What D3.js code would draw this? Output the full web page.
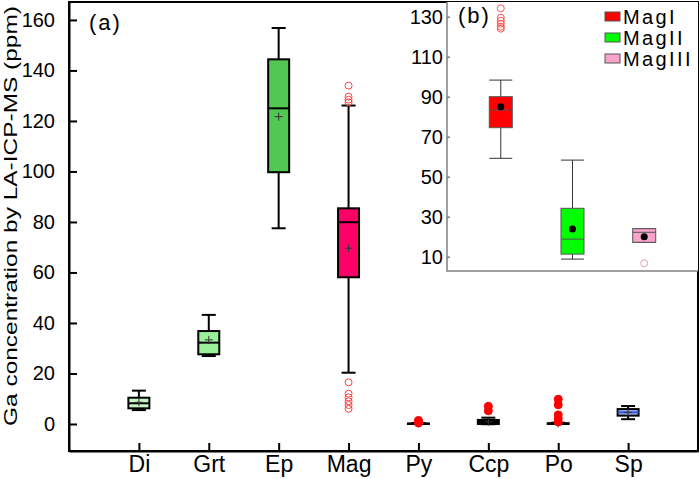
<!DOCTYPE html>
<html>
<head>
  <meta charset="utf-8">
  <style>
    body { margin: 0; background: #fff; }
    svg text { font-family: "Liberation Sans", Arial, sans-serif; fill: #000; }
    .frame { fill: none; stroke: #000; stroke-width: 2px; }
    .main-axis path, .main-axis line { stroke: #000; stroke-width: 2px; }
    .inset-axis path, .inset-axis line { stroke: #808080; stroke-width: 1.5px; }
  </style>
</head>
<body>
<script src="https://d3js.org/d3.v7.min.js"></script>
<script>
  // main panel (a) : Ga in minerals
  var minerals   = ["Di", "Grt", "Ep", "Mag", "Py", "Ccp", "Po", "Sp"];
  var whiskerLow = [5.5, 26.9, 77.5, 20.3, 0, -0.1, 0, 1.9];
  var q1         = [6.2, 27.6, 99.7, 58.1, 0, 0, 0, 3.3];
  var median     = [8.2, 32.2, 125.0, 79.9, 0.05, 0.8, 0.1, 4.6];
  var q3         = [10.4, 36.8, 144.4, 85.4, 0.2, 1.6, 0.3, 5.9];
  var whiskerHigh= [13.2, 43.2, 156.8, 126.1, 0.4, 2.5, 0.5, 7.1];
  var means      = [8.6, 33.3, 121.7, 69.6, 0.2, 0.9, 0.3, 4.6];
  var outliers   = [[], [], [], [134, 129.6, 128.4, 127.4, 16.5, 12, 10.5, 9, 7.5, 6],
                    [1.4, 0.9, 0.4], [7.0, 5.2], [9.8, 7.6, 3.6, 2.2, 0.8], []];
  var boxFill    = ["#c6f5c6", "#98f098", "#52c852", "#ff0066", "#000000", "#000000", "#000000", "#a3b3f2"];
  var medColor   = ["#000", "#000", "#000", "#000", "#000", "#000", "#000", "#3555d5"];
  var yTicks     = [0, 20, 40, 60, 80, 100, 120, 140, 160];

  // inset panel (b) : Mag generations
  var magTypes    = ["MagI", "MagII", "MagIII"];
  var magLow      = [59.2, 8.8, 17.2];
  var magQ1       = [74.5, 11.3, 17.2];
  var magMedian   = [83.3, 18.8, 22.2];
  var magQ3       = [90.0, 34.2, 24.0];
  var magHigh     = [98.3, 58.3, 24.0];
  var magMean     = [85.0, 23.8, 20.0];
  var magOutliers = [[134.2, 129.5, 128, 126.5, 125, 124], [], [6.7]];
  var magFill     = ["#ff0000", "#00ff00", "#f7a3cc"];
  var magOutColor = ["#ff5050", "#000", "#f090c0"];
  var insetTicks  = [10, 30, 50, 70, 90, 110, 130];

  var W = 700, H = 479;
  var svg = d3.select("body").append("svg").attr("width", W).attr("height", H);

  var x = d3.scaleLinear().domain([0, 9]).range([69, 698]);
  var y = d3.scaleLinear().domain([-10.7, 167.1]).range([451, 2]);
  var bw = 21, cap = 14;

  // axes
  svg.append("g").attr("class", "main-axis")
      .attr("transform", "translate(69,0)")
      .call(d3.axisLeft(y).tickValues(yTicks).tickSize(-8).tickPadding(14).tickSizeOuter(0))
      .call(function (g) { g.selectAll("text").style("font-size", "20px"); });

  svg.append("g").attr("class", "main-axis")
      .attr("transform", "translate(0,451)")
      .call(d3.axisBottom(x).tickValues(d3.range(1, 9)).tickSize(-8).tickPadding(5).tickSizeOuter(0)
        .tickFormat(function (d) { return minerals[d - 1]; }))
      .call(function (g) { g.selectAll("text").style("font-size", "23px"); });

  svg.append("rect").attr("class", "frame")
      .attr("x", 69).attr("y", 2).attr("width", 629).attr("height", 449);

  svg.append("text")
      .attr("transform", "translate(17,216) rotate(-90)")
      .attr("text-anchor", "middle")
      .style("font-size", "19px")
      .attr("textLength", 420).attr("lengthAdjust", "spacingAndGlyphs")
      .text("Ga concentration by LA-ICP-MS (ppm)");

  svg.append("text").attr("x", 89).attr("y", 30)
      .style("font-size", "22px").style("letter-spacing", "2px").text("(a)");

  // boxes
  var idx = d3.range(minerals.length);
  var gBox = svg.append("g");
  idx.forEach(function (i) {
    var cx = x(i + 1);
    var g = gBox.append("g");
    g.append("line").attr("x1", cx).attr("x2", cx).attr("y1", y(whiskerHigh[i])).attr("y2", y(q3[i]))
      .attr("stroke", "#000").attr("stroke-width", 2);
    g.append("line").attr("x1", cx).attr("x2", cx).attr("y1", y(q1[i])).attr("y2", y(whiskerLow[i]))
      .attr("stroke", "#000").attr("stroke-width", 2);
    [whiskerHigh[i], whiskerLow[i]].forEach(function (v) {
      g.append("line").attr("x1", cx - cap / 2).attr("x2", cx + cap / 2).attr("y1", y(v)).attr("y2", y(v))
        .attr("stroke", "#000").attr("stroke-width", 2);
    });
    g.append("rect").attr("x", cx - bw / 2).attr("width", bw)
      .attr("y", y(q3[i])).attr("height", Math.max(0.01, y(q1[i]) - y(q3[i])))
      .attr("fill", boxFill[i]).attr("stroke", "#000").attr("stroke-width", 2);
    g.append("line").attr("x1", cx - bw / 2).attr("x2", cx + bw / 2)
      .attr("y1", y(median[i])).attr("y2", y(median[i]))
      .attr("stroke", medColor[i]).attr("stroke-width", 2);
    // mean "+"
    g.append("path")
      .attr("d", "M" + (cx - 4) + "," + y(means[i]) + "h8M" + cx + "," + (y(means[i]) - 4) + "v8")
      .attr("stroke", "#333").attr("stroke-width", 1);
  });

  // outliers
  idx.forEach(function (i) {
    var filled = i >= 4;
    gBox.selectAll(null).data(outliers[i]).enter().append("circle")
      .attr("cx", x(i + 1)).attr("cy", function (d) { return y(d); })
      .attr("r", filled ? 4 : 3.5)
      .attr("fill", filled ? "#ff0000" : "none")
      .attr("stroke", filled ? "#ff0000" : "#ff4040").attr("stroke-width", 1);
  });

  // inset
  var xi = d3.scaleLinear().domain([0.25, 3.75]).range([447, 698]);
  var yi = d3.scaleLinear().domain([2.85, 137.35]).range([271, 2]);
  var ibw = 23;

  svg.append("rect").attr("x", 447).attr("y", 2).attr("width", 251).attr("height", 269).attr("fill", "#fff");

  svg.append("g").attr("class", "inset-axis")
      .attr("transform", "translate(447,0)")
      .call(d3.axisLeft(yi).tickValues(insetTicks).tickSize(-3).tickPadding(4).tickSizeOuter(0))
      .call(function (g) {
        g.select(".domain").remove();
        g.selectAll("text").style("font-size", "20px").style("fill", "#000");
      });
  svg.append("path").attr("d", "M447,2V271H698")
      .attr("fill", "none").attr("stroke", "#808080").attr("stroke-width", 1.5);

  svg.append("text").attr("x", 458).attr("y", 23)
      .style("font-size", "22px").style("letter-spacing", "2px").text("(b)");

  var gIn = svg.append("g");
  magTypes.forEach(function (m, i) {
    var cx = xi(i + 1);
    var g = gIn.append("g");
    g.append("line").attr("x1", cx).attr("x2", cx).attr("y1", yi(magHigh[i])).attr("y2", yi(magLow[i]))
      .attr("stroke", "#333").attr("stroke-width", 1);
    [magHigh[i], magLow[i]].forEach(function (v) {
      g.append("line").attr("x1", cx - ibw / 2).attr("x2", cx + ibw / 2).attr("y1", yi(v)).attr("y2", yi(v))
        .attr("stroke", "#333").attr("stroke-width", 1);
    });
    g.append("rect").attr("x", cx - ibw / 2).attr("width", ibw)
      .attr("y", yi(magQ3[i])).attr("height", yi(magQ1[i]) - yi(magQ3[i]))
      .attr("fill", magFill[i]).attr("stroke", "#555").attr("stroke-width", 1);
    g.append("line").attr("x1", cx - ibw / 2).attr("x2", cx + ibw / 2)
      .attr("y1", yi(magMedian[i])).attr("y2", yi(magMedian[i]))
      .attr("stroke", "#555").attr("stroke-width", 1);
    g.append("circle").attr("cx", cx).attr("cy", yi(magMean[i])).attr("r", 3.5).attr("fill", "#000");
    g.selectAll(null).data(magOutliers[i]).enter().append("circle")
      .attr("cx", cx).attr("cy", function (d) { return yi(d); }).attr("r", 3.5)
      .attr("fill", "none").attr("stroke", magOutColor[i]).attr("stroke-width", 1);
  });

  // legend
  var leg = svg.append("g").attr("transform", "translate(605,8)");
  magTypes.forEach(function (m, i) {
    leg.append("rect").attr("x", 0).attr("y", i * 21 + 4).attr("width", 15).attr("height", 9)
      .attr("fill", magFill[i]).attr("stroke", "#555").attr("stroke-width", 1);
    leg.append("text").attr("x", 18).attr("y", i * 21 + 16)
      .style("font-size", "20px").style("letter-spacing", "2.4px").text(m);
  });
</script>
</body>
</html>
